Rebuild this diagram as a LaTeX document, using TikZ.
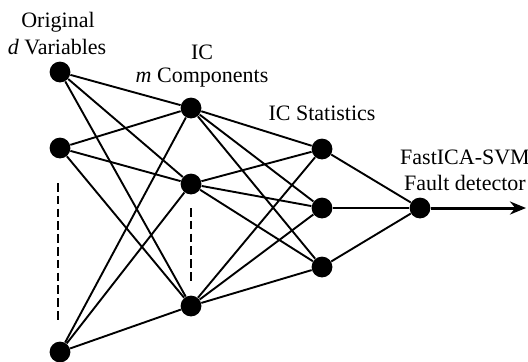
\documentclass[tikz,border=0pt]{standalone}
\usepackage{fontspec}
\setmainfont{Liberation Serif}
\usetikzlibrary{arrows.meta}
\begin{document}
\begin{tikzpicture}[x=0.5pt,y=-0.5pt,
  neuron/.style={circle,fill=black,inner sep=0pt,minimum size=10.4pt},
  link/.style={line width=0.95pt},
  dots/.style={line width=0.9pt,dash pattern=on 4.3pt off 2.1pt},
  lbl/.style={font=\fontsize{11}{13}\selectfont,align=center,inner sep=0pt},
  outarrow/.style={line width=1.5pt,-{Stealth[length=8pt,width=6.5pt]}}]
\useasboundingbox (0,0) rectangle (528,361);
\node[neuron] (a1) at (60,72) {};
\node[neuron] (a2) at (60,148) {};
\node[neuron] (a3) at (60,352) {};
\node[neuron] (b1) at (191,108) {};
\node[neuron] (b2) at (191,184) {};
\node[neuron] (b3) at (191,306) {};
\node[neuron] (c1) at (322,149) {};
\node[neuron] (c2) at (322,208) {};
\node[neuron] (c3) at (322,267) {};
\node[neuron] (d) at (420,208) {};
\coordinate (e) at (526,208);
\coordinate (da1) at (58,183);
\coordinate (da2) at (58,322);
\coordinate (db1) at (191,208);
\coordinate (db2) at (191,283);
\foreach \i in {a1,a2,a3}{\foreach \j in {b1,b2,b3}{\draw[link] (\i) -- (\j);}}
\foreach \i in {b1,b2,b3}{\foreach \j in {c1,c2,c3}{\draw[link] (\i) -- (\j);}}
\foreach \i in {c1,c2,c3}{\draw[link] (\i) -- (d);}
\draw[outarrow] (d) -- (e);
\draw[dots] (da1) -- (da2);
\draw[dots] (db1) -- (db2);
\node[lbl] (t1) at (58,22) {Original};
\node[lbl] (t2) at (57,47) {\textit{d} Variables};
\node[lbl] (t3) at (202,52) {IC};
\node[lbl] (t4) at (202,78) {\textit{m} Components};
\node[lbl] (t5) at (322,113) {IC Statistics};
\node[lbl] (t6) at (465,157) {FastICA-SVM};
\node[lbl] (t7) at (465,183) {Fault detector};
\end{tikzpicture}
\end{document}
